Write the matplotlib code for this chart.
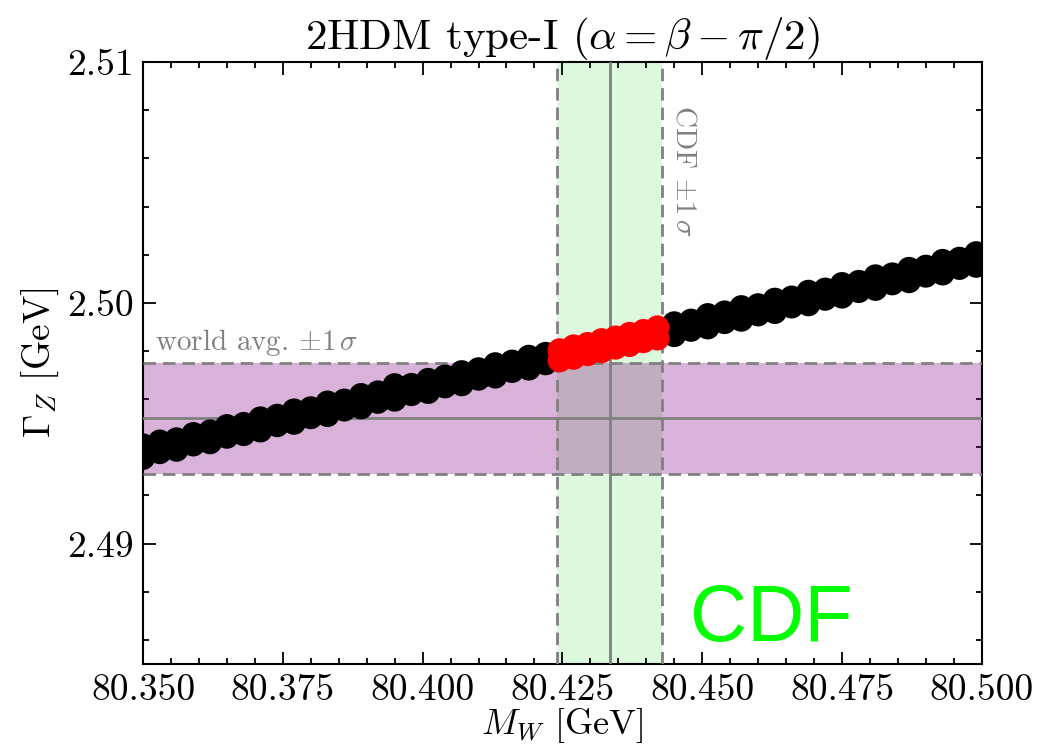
import matplotlib
matplotlib.use('Agg')
import matplotlib.pyplot as plt
from matplotlib.ticker import MultipleLocator, FormatStrFormatter

plt.rcParams['font.family'] = 'serif'
plt.rcParams['font.serif'] = ['cmr10']
plt.rcParams['mathtext.fontset'] = 'cm'
plt.rcParams['axes.formatter.use_mathtext'] = True

# measurements
mw_cdf = 80.4335
mw_cdf_err = 0.0094
gz_avg = 2.4952
gz_avg_err = 0.0023

# scan points (black: all, red: inside CDF band)
mw_black = [80.350, 80.353, 80.356, 80.359, 80.362, 80.365, 80.368, 80.371, 80.374,
            80.377, 80.380, 80.383, 80.386, 80.389, 80.392, 80.395, 80.398, 80.401,
            80.404, 80.407, 80.410, 80.413, 80.416, 80.419, 80.422,
            80.445, 80.448, 80.451, 80.454, 80.457, 80.460, 80.463, 80.466, 80.469,
            80.472, 80.475, 80.478, 80.481, 80.484, 80.487, 80.490, 80.493, 80.496,
            80.499, 80.502]
gz_black_hi = [2.49408, 2.49424, 2.49433, 2.49455, 2.49466, 2.49488, 2.49497, 2.49520, 2.49531,
               2.49553, 2.49562, 2.49586, 2.49594, 2.49617, 2.49628, 2.49658, 2.49659, 2.49680,
               2.49694, 2.49712, 2.49724, 2.49745, 2.49756, 2.49776, 2.49788,
               2.49915, 2.49926, 2.49949, 2.49960, 2.49982, 2.49990, 2.50013, 2.50022, 2.50046,
               2.50055, 2.50078, 2.50087, 2.50110, 2.50118, 2.50141, 2.50150, 2.50174, 2.50183,
               2.50206, 2.50215]
gz_black_lo = [2.49356, 2.49380, 2.49390, 2.49412, 2.49421, 2.49444, 2.49455, 2.49470, 2.49492,
               2.49502, 2.49525, 2.49534, 2.49557, 2.49566, 2.49589, 2.49598, 2.49621, 2.49630,
               2.49653, 2.49662, 2.49685, 2.49694, 2.49717, 2.49727, 2.49749,
               2.49866, 2.49888, 2.49898, 2.49920, 2.49930, 2.49952, 2.49962, 2.49985, 2.49994,
               2.50017, 2.50026, 2.50049, 2.50058, 2.50081, 2.50090, 2.50113, 2.50122, 2.50145,
               2.50154, 2.50177]

mw_red = [80.4245, 80.4270, 80.4295, 80.4320, 80.4345, 80.4370, 80.4395, 80.4420]
gz_red_hi = [2.49803, 2.49819, 2.49829, 2.49845, 2.49856, 2.49871, 2.49883, 2.49898]
gz_red_lo = [2.49761, 2.49772, 2.49787, 2.49799, 2.49814, 2.49825, 2.49841, 2.49852]

fig = plt.figure(figsize=(10.4, 7.51), dpi=100)
ax = fig.add_axes([0.1375, 0.1158, 0.8065, 0.8016])

# bands
ax.axvspan(mw_cdf - mw_cdf_err, mw_cdf + mw_cdf_err, color='lightgreen', alpha=0.3, lw=0, zorder=1)
ax.axhspan(gz_avg - gz_avg_err, gz_avg + gz_avg_err, color='purple', alpha=0.3, lw=0, zorder=2)

dash = (0, (4.5, 2.5))
ax.axvline(mw_cdf, color='gray', lw=2, zorder=3)
ax.axvline(mw_cdf - mw_cdf_err, color='gray', lw=2, ls=dash, zorder=3)
ax.axvline(mw_cdf + mw_cdf_err, color='gray', lw=2, ls=dash, zorder=3)
ax.axhline(gz_avg, color='gray', lw=2, zorder=3)
ax.axhline(gz_avg - gz_avg_err, color='gray', lw=2, ls=dash, zorder=3)
ax.axhline(gz_avg + gz_avg_err, color='gray', lw=2, ls=dash, zorder=3)

ax.scatter(mw_black + mw_black, gz_black_hi + gz_black_lo, s=300, c='black',
           edgecolors='none', zorder=4)
ax.scatter(mw_red + mw_red, gz_red_hi + gz_red_lo, s=300, c='red',
           edgecolors='none', zorder=5)

ax.text(80.3521, 2.49805, r'world avg. $\pm1\,\sigma$', color='gray', fontsize=21,
        ha='left', va='baseline')
ax.text(80.4467, 2.5082, r'CDF $\pm1\,\sigma$', color='gray', fontsize=21,
        rotation=270, ha='center', va='top')
ax.text(80.4478, 2.48594, 'CDF', color='lime', fontsize=57, family='Liberation Sans',
        ha='left', va='baseline')

ax.set_xlim(80.35, 80.50)
ax.set_ylim(2.485, 2.51)
ax.xaxis.set_major_locator(MultipleLocator(0.025))
ax.xaxis.set_minor_locator(MultipleLocator(0.005))
ax.yaxis.set_major_locator(MultipleLocator(0.01))
ax.yaxis.set_minor_locator(MultipleLocator(0.002))
ax.xaxis.set_major_formatter(FormatStrFormatter('%.3f'))
ax.yaxis.set_major_formatter(FormatStrFormatter('%.2f'))
ax.tick_params(which='both', direction='in', top=True, right=True, labelsize=27, width=1.3)
ax.tick_params(which='major', length=9, pad=7)
ax.tick_params(which='minor', length=4.5)
for sp in ax.spines.values():
    sp.set_linewidth(1.5)

ax.set_title(r'2HDM type-I ($\alpha = \beta - \pi/2$)', fontsize=31, pad=5)
ax.set_xlabel(r'$M_W$ [GeV]', fontsize=26)
ax.xaxis.set_label_coords(0.5, -0.102)
ax.xaxis.label.set_va('center')
ax.set_ylabel(r'$\Gamma_Z$ [GeV]', fontsize=27, labelpad=4)

fig.savefig('out.png', dpi=100)
